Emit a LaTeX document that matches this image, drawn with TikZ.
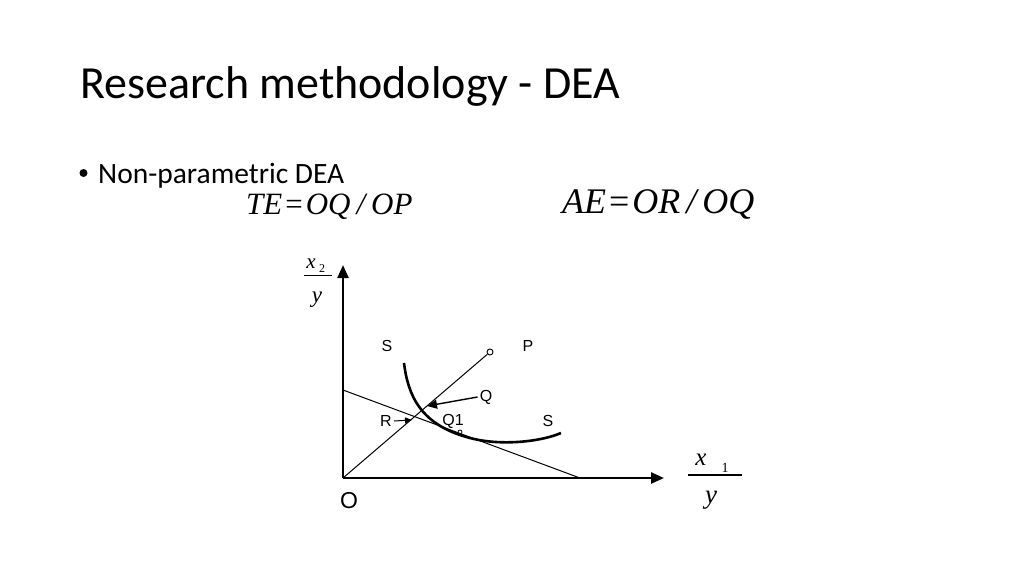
\documentclass[tikz,border=0pt]{standalone}
\usepackage{fontspec}
\setmainfont{Carlito}
\newfontfamily\arialfont{Liberation Sans}
\newfontfamily\timesfont{Liberation Serif}
\usetikzlibrary{arrows.meta}
\begin{document}
\begin{tikzpicture}[x=1pt,y=-1pt,
  lbl/.style={font=\arialfont\fontsize{16}{16}\selectfont, inner sep=0pt},
  thin line/.style={line width=1pt},
  axis/.style={line width=2.4pt,-{Triangle[length=13pt,width=11pt]}},
  tri/.style={-{Triangle[length=10pt,width=9pt]}, line width=1.4pt},
  mathit/.style={font=\timesfont\itshape\fontsize{#1}{#1}\selectfont, inner sep=0pt},
  mathrm/.style={font=\timesfont\fontsize{#1}{#1}\selectfont, inner sep=0pt}]
\useasboundingbox (0,0) rectangle (1024,576);
\node[anchor=base west, inner sep=0pt, font=\fontsize{46}{46}\selectfont] (title) at (80,98) {Research methodology - DEA};
\node[circle, fill=black, minimum size=8pt, inner sep=0pt] (dot) at (83.5,173) {};
\node[anchor=base west, inner sep=0pt, font=\fontsize{29.5}{29.5}\selectfont] (bullet) at (98,183) {Non-parametric DEA};
\node[anchor=base west, mathit=31] (te) at (246,214) {TE\hspace{3pt}{\upshape=}\hspace{3pt}OQ\hspace{6pt}/\hspace{6pt}OP};
\node[anchor=base west, mathit=36] (ae) at (562,213) {AE\hspace{3pt}{\upshape=}\hspace{3pt}OR\hspace{6pt}/\hspace{6pt}OQ};
% axes
\coordinate (O) at (343,478);
\coordinate (ytip) at (343,265);
\coordinate (xtip) at (664,478);
\draw[axis] (O) -- (ytip);
\draw[axis] (O) -- (xtip);
\node[font=\arialfont\fontsize{23}{23}\selectfont, inner sep=0pt] (o) at (349,501) {O};
% axis labels
\node[anchor=base, mathit=21] (x2) at (311,268) {x};
\node[anchor=base, mathrm=12] (x2s) at (322,272) {2};
\draw[line width=0.8pt] (304,275) -- (332,275);
\node[anchor=base, mathit=23] (y2) at (317,302) {y};
\node[anchor=base, mathit=25] (x1) at (701,465) {x};
\node[anchor=base, mathrm=14] (x1s) at (725,472) {1};
\draw[line width=2.4pt] (688,475) -- (742,475);
\node[anchor=base, mathit=27] (y1) at (711,503) {y};
% budget line
\coordinate (B1) at (343,390);
\coordinate (B2) at (580,478);
\draw[thin line] (B1) -- (B2);
% ray OP
\node[circle, draw, line width=0.9pt, minimum size=6pt, inner sep=0pt, fill=white] (P) at (490,352) {};
\draw[thin line] (O) -- (P);
% isoquant
\draw[line width=2.6pt] (404,363) .. controls (408,395) and (420,425) .. (470,438)
  .. controls (500,446) and (540,442) .. (561,433);
% labels
\node[lbl] (S1) at (387,346) {S};
\node[lbl] (Pl) at (528,346) {P};
\node[lbl] (S2) at (548,421) {S};
\node[lbl] (Ql) at (486,397) {Q};
\node[lbl] (Rl) at (386,421) {R};
\node[lbl] (Q1l) at (453,421) {Q1};
\node[circle, draw, line width=0.8pt, minimum size=4pt, inner sep=0pt] (Q1p) at (460,432) {};
% arrows
\coordinate (Qhead) at (427,406);
\coordinate (Rhead) at (412,420);
\draw[tri] (Ql.west) ++(-2,0) -- (Qhead);
\draw[-{Triangle[length=7pt,width=6pt]}, line width=1pt] (Rl.east) ++(2,0) -- (Rhead);
\end{tikzpicture}
\end{document}
